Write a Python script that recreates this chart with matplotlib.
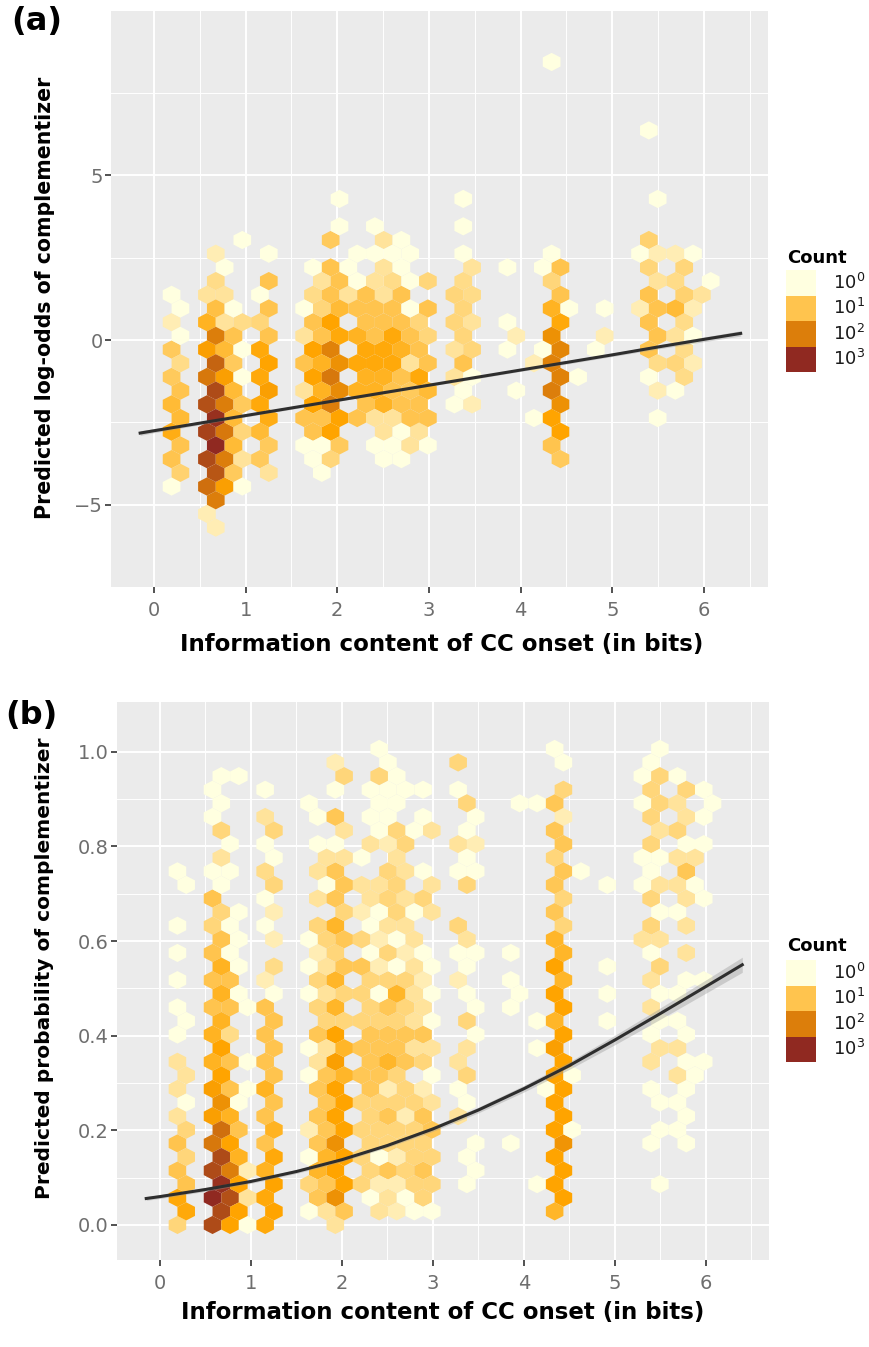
import numpy as np
import matplotlib.pyplot as plt
from matplotlib.colors import LinearSegmentedColormap, LogNorm
from matplotlib.patches import Rectangle

plt.rcParams['font.family'] = ['DejaVu Sans']

# hex bins, one entry per column of hexagons:
# (bin centre x, lowest bin centre y, counts going up the column)
cols_a = [
    (0.193, -4.44, [1, 10, 25, 15, 8, 8, 2, 1]),
    (0.289, -4.025, [6, 10, 15, 10, 4, 1, 1]),
    (0.578, -5.27, [2, 150, 400, 500, 350, 120, 40, 20, 3]),
    (0.675, -5.685, [2, 100, 300, 1000, 800, 400, 200, 100, 12, 4, 2]),
    (0.771, -4.44, [40, 100, 120, 100, 40, 15, 3, 3, 1]),
    (0.868, -4.025, [8, 15, 15, 15, 8, 10, 1]),
    (0.964, -4.44, [1, 3, 5, 8, 1, 1, 4, 0, 0, 1]),
    (1.157, -3.61, [8, 15, 30, 30, 30, 5, 1]),
    (1.253, -4.025, [3, 8, 25, 40, 35, 10, 10, 10, 1]),
    (1.639, -3.195, [1, 10, 3, 10, 3, 1]),
    (1.735, -3.61, [1, 10, 35, 35, 35, 10, 4, 1]),
    (1.832, -4.025, [1, 1, 10, 20, 20, 10, 5, 3]),
    (1.928, -3.61, [5, 35, 100, 120, 90, 35, 10, 10, 8]),
    (2.024, -3.195, [8, 35, 70, 60, 30, 15, 10, 0, 1, 1]),
    (2.121, 1.37, [3, 1]),
    (2.217, -2.365, [10, 20, 30, 20, 10, 1, 1]),
    (2.314, -1.95, [10, 20, 30, 10, 10]),
    (2.410, -3.195, [1, 3, 20, 30, 10, 10, 3, 1, 1]),
    (2.506, -3.61, [1, 3, 20, 20, 30, 10, 3, 3, 3]),
    (2.603, -3.195, [1, 3, 10, 30, 30, 10, 4, 1]),
    (2.699, -3.61, [1, 1, 10, 10, 20, 10, 10, 1, 1]),
    (2.796, -3.195, [3, 10, 8, 3, 10, 1, 1, 1]),
    (2.892, -2.78, [3, 10, 30, 10, 5]),
    (2.989, -3.195, [1, 10, 15, 10, 5, 10, 5]),
    (3.278, -1.95, [1, 3, 3, 5, 5]),
    (3.374, -1.535, [1, 10, 5, 5, 4, 1, 1, 1]),
    (3.471, -1.95, [2, 1, 5, 3, 4, 3]),
    (3.856, -0.29, [1, 1, 0, 1]),
    (3.952, -1.535, [1, 0, 2]),
    (4.145, -2.365, [1, 0, 2]),
    (4.241, -0.29, [1, 0, 0, 1]),
    (4.338, -3.195, [10, 35, 100, 90, 60, 20, 5, 1, 0, 0, 0, 0, 0, 0, 1]),
    (4.434, -3.61, [8, 35, 60, 90, 80, 30, 10, 10]),
    (4.531, 0.955, [1]),
    (4.627, -1.12, [1]),
    (4.820, -0.29, [1]),
    (4.916, 0.125, [2, 1]),
    (5.302, 0.955, [2, 0, 1]),
    (5.398, -1.12, [1, 10, 10, 10, 5, 6, 0, 0, 0, 1]),
    (5.495, -2.365, [1, 2, 4, 10, 10, 3, 2, 0, 1]),
    (5.688, -1.535, [1, 5, 3, 15, 4, 2]),
    (5.784, -1.12, [4, 4, 4, 6, 5]),
    (5.880, -0.705, [2, 1, 2, 0, 1]),
    (5.977, 1.37, [3]),
    (6.073, 1.785, [1]),
]

cols_b = [
    (0.193, 0.0, [5, 30, 10, 10, 3, 3, 3, 1, 1, 1, 1, 1, 0, 1]),
    (0.289, 0.02875, [30, 10, 5, 5, 1, 3, 0, 1, 0, 0, 0, 0, 1]),
    (0.578, 0.0, [400, 1000, 400, 120, 40, 40, 20, 20, 10, 10, 10, 5, 10, 1, 0, 1, 1]),
    (0.675, 0.02875, [400, 800, 400, 150, 60, 35, 35, 20, 20, 20, 10, 5, 1, 3, 5, 1, 1]),
    (0.771, 0.0, [35, 350, 100, 35, 20, 10, 10, 4, 10, 10, 1, 1, 0, 1, 1]),
    (0.868, 0.02875, [35, 35, 20, 10, 1, 0, 0, 0, 1, 1, 1, 1, 0, 0, 0, 0, 1]),
    (0.964, 0.0, [1, 3, 2, 0, 0, 1, 1, 0, 1]),
    (1.157, 0.0, [30, 30, 20, 10, 10, 20, 10, 10, 10, 2, 0, 1, 1, 4, 1, 3, 1]),
    (1.253, 0.02875, [35, 35, 30, 20, 10, 10, 10, 10, 1, 4, 2, 2, 5, 1, 5]),
    (1.639, 0.02875, [1, 5, 1, 2, 0, 1, 1, 0, 1, 1, 1, 0, 0, 0, 0, 1]),
    (1.735, 0.0575, [9, 18, 9, 9, 9, 3, 9, 5, 5, 2, 5, 3, 3, 1, 1]),
    (1.832, 0.02875, [3, 9, 18, 9, 9, 9, 3, 5, 3, 3, 5, 0, 1, 3]),
    (1.928, 0.0, [3, 60, 35, 60, 35, 35, 40, 35, 18, 18, 5, 18, 9, 9, 1, 9, 1, 2]),
    (2.024, 0.02875, [9, 35, 35, 35, 35, 18, 18, 5, 5, 9, 9, 5, 9, 3, 3, 0, 5]),
    (2.217, 0.08625, [5, 5, 5, 5, 9, 9, 5, 5, 9, 5, 2, 3, 1]),
    (2.314, 0.0575, [1, 5, 5, 5, 9, 9, 9, 5, 5, 1, 1, 3, 0, 3, 1, 1]),
    (2.410, 0.02875, [3, 2, 1, 5, 5, 9, 9, 5, 1, 2, 2, 1, 3, 0, 1, 1, 5, 1]),
    (2.506, 0.0575, [3, 9, 5, 9, 2, 18, 9, 9, 5, 5, 3, 5, 5, 2, 1, 1, 1]),
    (2.603, 0.02875, [2, 2, 2, 5, 5, 5, 9, 5, 18, 1, 1, 5, 5, 3, 5, 1, 1]),
    (2.699, 0.0575, [1, 5, 5, 2, 5, 9, 9, 5, 5, 2, 3, 3, 3, 5, 0, 1]),
    (2.796, 0.02875, [1, 5, 5, 5, 5, 0, 3, 3, 3, 3, 3, 1, 0, 0, 1]),
    (2.892, 0.0575, [5, 9, 5, 9, 2, 5, 9, 3, 2, 1, 0, 5, 1, 0, 1, 1]),
    (2.989, 0.02875, [1, 5, 5, 9, 3, 1, 3, 1, 1, 1, 0, 3, 3, 0, 3]),
    (3.278, 0.23, [3, 1, 3, 0, 0, 2, 1, 5, 0, 1, 3, 0, 1, 5]),
    (3.374, 0.08625, [1, 1, 0, 1, 5, 3, 5, 1, 1, 3, 0, 5, 1, 1, 5]),
    (3.471, 0.115, [1, 1, 0, 0, 0, 1, 1, 0, 1, 0, 0, 1, 2, 1]),
    (3.856, 0.1725, [1, 0, 0, 0, 0, 1, 1, 1]),
    (3.952, 0.48875, [1, 0, 0, 0, 0, 0, 0, 1]),
    (4.145, 0.08625, [1, 0, 0, 0, 0, 1, 1, 0, 0, 0, 0, 0, 0, 0, 1]),
    (4.241, 0.2875, [1]),
    (4.338, 0.02875, [18, 35, 35, 35, 35, 35, 40, 18, 35, 35, 18, 9, 9, 5, 9, 9, 0, 1]),
    (4.434, 0.0575, [35, 35, 55, 35, 35, 35, 35, 35, 18, 18, 5, 5, 9, 9, 2, 5, 1]),
    (4.531, 0.20125, [1, 0, 1]),
    (4.627, 0.7475, [1]),
    (4.916, 0.43125, [1, 1, 1, 0, 0, 1]),
    (5.302, 0.60375, [3, 0, 1, 1, 0, 1, 1]),
    (5.398, 0.1725, [1, 0, 1, 3, 1, 3, 3, 1, 5, 5, 1, 5, 5, 5, 1]),
    (5.495, 0.08625, [1, 0, 1, 1, 0, 3, 1, 1, 5, 3, 1, 3, 1, 3, 5, 5, 1]),
    (5.688, 0.20125, [1, 1, 3, 3, 1, 1, 0, 0, 1, 3, 3, 5, 3, 1]),
    (5.784, 0.1725, [1, 1, 1, 1, 1, 0, 1, 3, 3, 3, 9, 1, 3, 5]),
    (5.880, 0.31625, [1, 0, 0, 0, 0, 0, 0, 1, 3]),
    (5.977, 0.345, [1, 0, 0, 1, 0, 0, 1, 0, 1, 1, 1]),
    (6.073, 0.89125, [1]),
]

# fitted model curve
fit_x = [-0.15, 0, 0.5, 1, 1.5, 2, 2.5, 3, 3.5, 4, 4.5, 5, 5.5, 6, 6.4]
fit_logodds = [-2.82, -2.75, -2.52, -2.29, -2.06, -1.83, -1.60, -1.37,
               -1.14, -0.91, -0.68, -0.45, -0.21, 0.02, 0.20]
fit_logodds_se = [0.07, 0.06, 0.05, 0.04, 0.04, 0.03, 0.03, 0.03,
                  0.04, 0.04, 0.05, 0.05, 0.06, 0.07, 0.08]
fit_prob = [0.056, 0.060, 0.075, 0.092, 0.113, 0.138, 0.168, 0.203,
            0.243, 0.288, 0.337, 0.391, 0.447, 0.504, 0.550]
fit_prob_se = [0.004, 0.004, 0.004, 0.004, 0.004, 0.004, 0.004, 0.005,
               0.006, 0.007, 0.008, 0.010, 0.012, 0.014, 0.016]

legend_counts = [1, 10, 100, 1000]
legend_labels = ['$10^0$', '$10^1$', '$10^2$', '$10^3$']

x_ticks = [0, 1, 2, 3, 4, 5, 6]
x_minor = [0.5, 1.5, 2.5, 3.5, 4.5, 5.5, 6.5]
ya_ticks = [-5, 0, 5]
ya_labels = ['\u22125', '0', '5']
ya_minor = [-2.5, 2.5, 7.5]
yb_ticks = [0.0, 0.2, 0.4, 0.6, 0.8, 1.0]
yb_labels = ['0.0', '0.2', '0.4', '0.6', '0.8', '1.0']
yb_minor = [0.1, 0.3, 0.5, 0.7, 0.9]

W, H = 870, 1347
cmap = LinearSegmentedColormap.from_list('count', ['#FFFFE0', '#FFA500', '#8B2323'])
norm = LogNorm(vmin=1, vmax=1200)

bin_w = 0.1928
step_a = 0.83
step_b = 0.0575


def unpack(cols, step):
    xs, ys, ns = [], [], []
    for x, y0, counts in cols:
        for i, n in enumerate(counts):
            if n > 0:
                xs.append(x)
                ys.append(y0 + i * step)
                ns.append(n)
    return np.array(xs), np.array(ys), np.array(ns, dtype=float)


def px_box(left, top, right, bottom):
    return [left / W, 1 - bottom / H, (right - left) / W, (bottom - top) / H]


def style(ax, xlim, ylim, yticks, ylabels, yminor):
    ax.set_facecolor('#EBEBEB')
    ax.set_xlim(xlim)
    ax.set_ylim(ylim)
    ax.set_xticks(x_ticks)
    ax.set_xticks(x_minor, minor=True)
    ax.set_yticks(yticks)
    ax.set_yticklabels(ylabels)
    ax.set_yticks(yminor, minor=True)
    ax.grid(which='major', color='white', lw=1.4)
    ax.grid(which='minor', color='white', lw=0.7)
    ax.set_axisbelow(True)
    for s in ax.spines.values():
        s.set_visible(False)
    ax.tick_params(which='major', length=4, width=1.2, color='#333333',
                   labelsize=14, labelcolor='#6E6E6E')
    ax.tick_params(axis='x', pad=6)
    ax.tick_params(axis='y', pad=2)
    ax.tick_params(which='minor', length=0)


def legend(fig, title_y, key_top):
    fig.text(787 / W, 1 - title_y / H, 'Count', fontsize=13, fontweight='bold',
             ha='left', va='center')
    kh = 25.5
    for i, (n, lab) in enumerate(zip(legend_counts, legend_labels)):
        top = key_top + i * kh
        fig.patches.append(Rectangle((786 / W, 1 - (top + kh) / H), 30 / W, kh / H,
                                     transform=fig.transFigure,
                                     facecolor=cmap(norm(n)), edgecolor='none'))
        fig.text(833 / W, 1 - (top + kh / 2) / H, lab, fontsize=13,
                 ha='left', va='center', color='#1A1A1A')


fig = plt.figure(figsize=(W / 100, H / 100), dpi=100)

# panel (a): log-odds
ax_a = fig.add_axes(px_box(111, 11, 768, 587))
xa, ya, na = unpack(cols_a, step_a)
ax_a.hexbin(xa, ya, C=na, reduce_C_function=np.sum, gridsize=(36, 19),
            extent=(-2 * bin_w, 34 * bin_w, 0.54 - 9 * step_a, 0.54 + 10 * step_a),
            cmap=cmap, norm=norm, linewidths=0, edgecolors='none', zorder=2)
lo = np.array(fit_logodds) - np.array(fit_logodds_se)
hi = np.array(fit_logodds) + np.array(fit_logodds_se)
ax_a.fill_between(fit_x, lo, hi, color='#999999', alpha=0.4, lw=0, zorder=3)
ax_a.plot(fit_x, fit_logodds, color='#2E2E2E', lw=2.2, zorder=4)
style(ax_a, (-0.468, 6.698), (-7.485, 9.97), ya_ticks, ya_labels, ya_minor)

# panel (b): probability
ax_b = fig.add_axes(px_box(117.3, 701.7, 769.4, 1260))
xb, yb, nb = unpack(cols_b, step_b)
ax_b.hexbin(xb, yb, C=nb, reduce_C_function=np.sum, gridsize=(36, 21),
            extent=(-2 * bin_w, 34 * bin_w, -2 * step_b, 19 * step_b),
            cmap=cmap, norm=norm, linewidths=0, edgecolors='none', zorder=2)
lo = np.array(fit_prob) - np.array(fit_prob_se)
hi = np.array(fit_prob) + np.array(fit_prob_se)
ax_b.fill_between(fit_x, lo, hi, color='#999999', alpha=0.4, lw=0, zorder=3)
ax_b.plot(fit_x, fit_prob, color='#2E2E2E', lw=2.2, zorder=4)
style(ax_b, (-0.468, 6.698), (-0.074, 1.106), yb_ticks, yb_labels, yb_minor)

xlab = 'Information content of CC onset (in bits)'
fig.text(442 / W, 1 - 651.5 / H, xlab, fontsize=16.5, fontweight='bold',
         ha='center', va='baseline')
fig.text(443 / W, 1 - 1319 / H, xlab, fontsize=16.5, fontweight='bold',
         ha='center', va='baseline')
fig.text(45 / W, 1 - 298 / H, 'Predicted log-odds of complementizer', fontsize=14.8,
         fontweight='bold', rotation=90, ha='center', va='center')
fig.text(45 / W, 1 - 968 / H, 'Predicted probability of complementizer', fontsize=14.5,
         fontweight='bold', rotation=90, ha='center', va='center')

fig.text(11 / W, 1 - 6 / H, '(a)', fontsize=23, fontweight='bold', ha='left', va='top')
fig.text(5 / W, 1 - 700 / H, '(b)', fontsize=23, fontweight='bold', ha='left', va='top')

legend(fig, 258, 270)
legend(fig, 946, 960)

fig.savefig('out.png', dpi=100)
